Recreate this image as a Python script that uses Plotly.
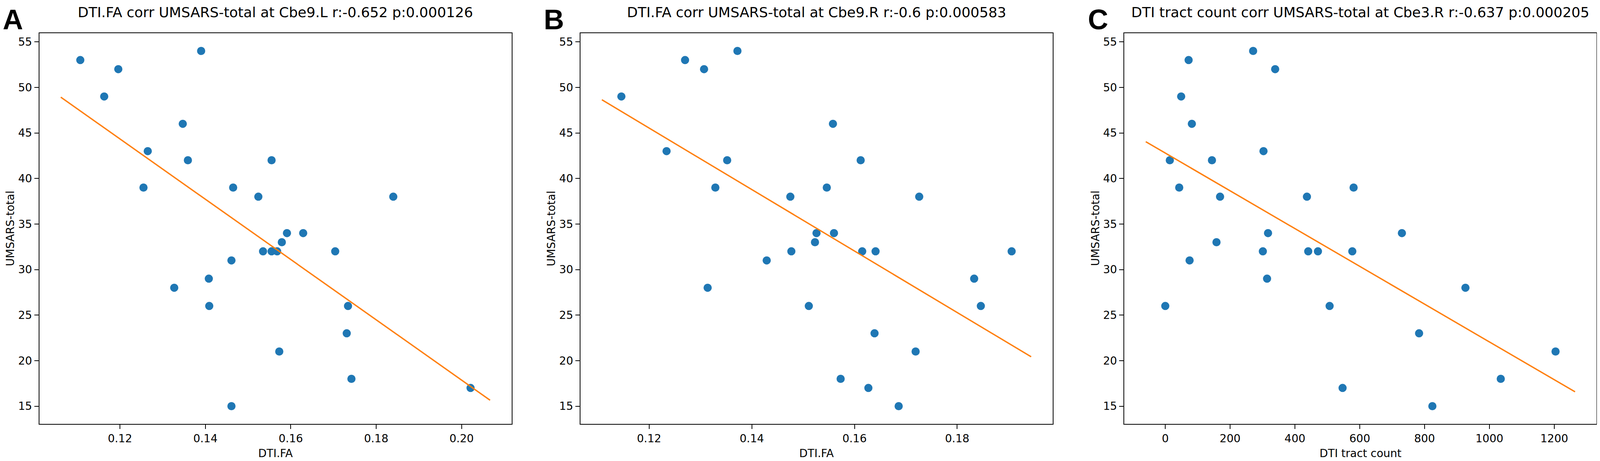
import numpy as np
import plotly.graph_objects as go

# UMSARS-total vs DTI measures
x_a = [0.1107, 0.1196, 0.1163, 0.1390, 0.1347, 0.1265, 0.1359, 0.1555, 0.1255, 0.1465,
       0.1524, 0.1840, 0.1591, 0.1629, 0.1579, 0.1535, 0.1555, 0.1568, 0.1704, 0.1461,
       0.1408, 0.1327, 0.1409, 0.1734, 0.1731, 0.1573, 0.1742, 0.2021, 0.1461]
y_a = [53, 52, 49, 54, 46, 43, 42, 42, 39, 39, 38, 38, 34, 34, 33, 32, 32, 32, 32, 31,
       29, 28, 26, 26, 23, 21, 18, 17, 15]

x_b = [0.1146, 0.1270, 0.1307, 0.1372, 0.1558, 0.1234, 0.1352, 0.1612, 0.1329, 0.1546,
       0.1475, 0.1726, 0.1526, 0.1560, 0.1523, 0.1477, 0.1615, 0.1641, 0.1906, 0.1429,
       0.1833, 0.1314, 0.1511, 0.1846, 0.1639, 0.1719, 0.1573, 0.1627, 0.1686]
y_b = [49, 53, 52, 54, 46, 43, 42, 42, 39, 39, 38, 38, 34, 34, 33, 32, 32, 32, 32, 31,
       29, 28, 26, 26, 23, 21, 18, 17, 15]

x_c = [72, 49, 271, 339, 82, 303, 14, 144, 43, 581, 169, 437, 317, 730, 158, 301, 441,
       471, 577, 75, 314, 926, 0, 507, 783, 1204, 1035, 547, 824]
y_c = [53, 49, 54, 52, 46, 43, 42, 42, 39, 39, 38, 38, 34, 34, 33, 32, 32, 32, 32, 31,
       29, 28, 26, 26, 23, 21, 18, 17, 15]

titles = ["DTI.FA corr UMSARS-total at Cbe9.L r:-0.652 p:0.000126",
          "DTI.FA corr UMSARS-total at Cbe9.R r:-0.6 p:0.000583",
          "DTI tract count corr UMSARS-total at Cbe3.R r:-0.637 p:0.000205"]
xlabels = ["DTI.FA", "DTI.FA", "DTI tract count"]
letters = ["A", "B", "C"]

# page is 4552x1181, plot div sits inside the 8px body margin
PAGE_W, H = 4552, 1181
X0, Y0 = 8, 8
W = PAGE_W - 2 * X0


def fx(px):
    return (px - X0) / W


def fy(py):
    return 1 - (py - Y0) / H


# axes pixel boxes (left, right) and shared top/bottom, in page pixels
boxes = [(111, 1455), (1651, 2995), (3199, 4543)]
top, bottom = 85, 1086

fig = go.Figure()
font = "DejaVu Sans"

for i, (xs, ys) in enumerate([(x_a, y_a), (x_b, y_b), (x_c, y_c)]):
    n = "" if i == 0 else str(i + 1)
    xs = np.array(xs, dtype=float)
    ys = np.array(ys, dtype=float)
    # regression line drawn a bit past the data
    slope, icpt = np.polyfit(xs, ys, 1)
    rng = xs.max() - xs.min()
    lx = np.array([xs.min() - 0.05 * rng, xs.max() + 0.05 * rng])
    fig.add_trace(go.Scatter(x=xs, y=ys, mode="markers", xaxis="x" + n, yaxis="y" + n,
                             marker=dict(color="#1f77b4", size=21), showlegend=False))
    fig.add_trace(go.Scatter(x=lx, y=slope * lx + icpt, mode="lines", xaxis="x" + n, yaxis="y" + n,
                             line=dict(color="#ff7f0e", width=3.5), showlegend=False))

    lr = lx[1] - lx[0]
    xr = [lx[0] - 0.05 * lr, lx[1] + 0.05 * lr]
    yspan = ys.max() - ys.min()
    yr = [ys.min() - 0.05 * yspan, ys.max() + 0.05 * yspan]
    l, r = boxes[i]
    ax = dict(showgrid=False, zeroline=False, showline=True, mirror=True, linecolor="black",
              linewidth=2, ticks="outside", ticklen=11, tickwidth=2, tickcolor="black",
              tickfont=dict(family=font, size=28, color="black"))
    fig.update_layout(**{
        "xaxis" + n: dict(ax, domain=[fx(l), fx(r)], range=xr, anchor="y" + n,
                          dtick=200 if i == 2 else 0.02,
                          tickformat="d" if i == 2 else ".2f"),
        "yaxis" + n: dict(ax, domain=[fy(bottom), fy(top)], range=yr,
                          anchor="x" + n, dtick=5),
    })

    # title, axis labels and panel letter
    fig.add_annotation(text=titles[i], x=fx((l + r) / 2), y=fy(32), xref="paper", yref="paper",
                       showarrow=False, xanchor="center", yanchor="middle",
                       font=dict(family=font, size=36, color="black"))
    fig.add_annotation(text=xlabels[i], x=fx((l + r) / 2), y=fy(1161), xref="paper", yref="paper",
                       showarrow=False, xanchor="center", yanchor="middle",
                       font=dict(family=font, size=28, color="black"))
    fig.add_annotation(text="UMSARS-total", x=fx(l - 103), y=fy((top + bottom) / 2),
                       xref="paper", yref="paper", textangle=-90, showarrow=False,
                       xanchor="left", yanchor="middle",
                       font=dict(family=font, size=28, color="black"))
    fig.add_annotation(text="<b>" + letters[i] + "</b>", x=fx(l - 106), y=1,
                       xref="paper", yref="paper", showarrow=False,
                       xanchor="left", yanchor="top",
                       font=dict(family="Liberation Sans", size=72, color="black"))

fig.update_layout(height=H, margin=dict(l=0, r=0, t=0, b=0),
                  plot_bgcolor="white", paper_bgcolor="white")

fig.write_html("out.html")
